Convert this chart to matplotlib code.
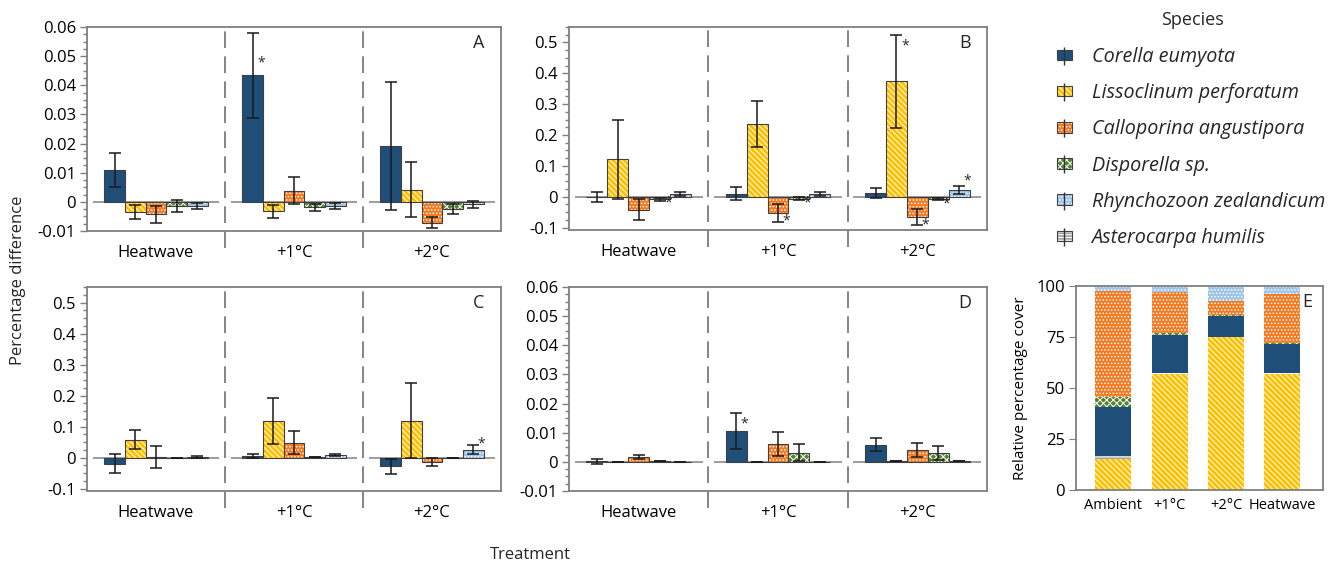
import numpy as np
import matplotlib
matplotlib.use('Agg')
import matplotlib.pyplot as plt
from matplotlib.ticker import AutoMinorLocator, MultipleLocator
from matplotlib.lines import Line2D
from matplotlib.patches import Patch
from matplotlib.legend_handler import HandlerTuple

plt.rcParams['font.family'] = ['Open Sans', 'DejaVu Sans']
plt.rcParams['hatch.linewidth'] = 0.7
plt.rcParams['text.color'] = '#262626'

species = ['Corella eumyota', 'Lissoclinum perforatum', 'Calloporina angustipora',
           'Disporella sp.', 'Rhynchozoon zealandicum', 'Asterocarpa humilis']
colors = ['#1F4E79', '#FFC000', '#F47920', '#548235', '#9DC3E6', '#A6A6A6']
hatches = ['', '\\' * 6, '.....', 'xxxxx', '.....', '------']

treatments = ['Heatwave', '+1°C', '+2°C']

# mean percentage difference, rows = treatment, cols = first five species
a_mean = [[0.0109, -0.0034, -0.0043, -0.0014, -0.0013],
          [0.0434, -0.0033, 0.0038, -0.0019, -0.0013],
          [0.0191, 0.0042, -0.0071, -0.0025, -0.0009]]
a_err = [[0.0057, 0.0024, 0.0028, 0.0020, 0.0010],
         [0.0147, 0.0021, 0.0046, 0.0011, 0.0010],
         [0.0220, 0.0094, 0.0019, 0.0016, 0.0012]]

b_mean = [[-0.001, 0.1215, -0.042, -0.009, 0.009],
          [0.009, 0.236, -0.053, -0.007, 0.009],
          [0.012, 0.374, -0.067, -0.008, 0.022]]
b_err = [[0.016, 0.128, 0.033, 0.004, 0.007],
         [0.021, 0.074, 0.030, 0.005, 0.006],
         [0.017, 0.150, 0.026, 0.004, 0.013]]

c_mean = [[-0.0195, 0.057, 0.001, -0.001, 0.002],
          [0.005, 0.118, 0.048, 0.001, 0.0076],
          [-0.028, 0.119, -0.014, 0.0, 0.025]]
c_err = [[0.030, 0.031, 0.036, 0.0, 0.002],
         [0.007, 0.074, 0.037, 0.0, 0.004],
         [0.024, 0.120, 0.014, 0.0, 0.015]]

d_mean = [[0.0002, 0.0001, 0.0016, 0.0002, -0.0002],
          [0.0106, 0.0001, 0.0062, 0.0032, -0.0001],
          [0.0059, 0.0002, 0.0042, 0.0030, 0.0002]]
d_err = [[0.0009, 0.0, 0.0007, 0.0, 0.0],
         [0.0063, 0.0, 0.0042, 0.0030, 0.0],
         [0.0022, 0.0, 0.0024, 0.0024, 0.0]]

# significance markers: (treatment index, species index, y)
a_stars = [(1, 0, 0.0478)]
b_stars = [(0, 3, -0.021), (1, 2, -0.080), (1, 3, -0.021),
           (2, 1, 0.489), (2, 2, -0.091), (2, 3, -0.024), (2, 4, 0.051)]
c_stars = [(2, 4, 0.043)]
d_stars = [(1, 0, 0.0131)]

# relative percentage cover (panel E), stacked in this order from the bottom
e_groups = ['Ambient', '+1°C', '+2°C', 'Heatwave']
e_order = [1, 5, 0, 3, 2, 4]
e_cover = {
    'Lissoclinum perforatum': [15.1, 56.9, 74.9, 56.9],
    'Asterocarpa humilis': [1.8, 0.5, 0.0, 0.5],
    'Corella eumyota': [23.8, 18.7, 10.2, 14.1],
    'Disporella sp.': [4.9, 0.8, 0.6, 0.8],
    'Calloporina angustipora': [52.1, 20.1, 6.9, 23.9],
    'Rhynchozoon zealandicum': [2.3, 3.0, 7.4, 3.8],
}

W, H = 1338, 567
fig = plt.figure(figsize=(W / 100, H / 100), dpi=100)


def box(l, t, r, b):
    return [l / W, 1 - b / H, (r - l) / W, (b - t) / H]


SPINE = '#7f7f7f'
BW = 0.15


def diff_panel(ax, mean, err, stars, ylim, major, letter):
    mean = np.array(mean)
    err = np.array(err)
    x = np.arange(len(treatments))
    for g in x:
        ax.hlines(0, g - 0.46, g + 0.46, color='#8c8c8c', lw=1.2, zorder=1)
    for s in range(mean.shape[1]):
        xs = x + (s - 2) * BW
        ax.bar(xs, mean[:, s], BW, color=colors[s], edgecolor='white',
               hatch=hatches[s], lw=0, zorder=2)
        ax.bar(xs, mean[:, s], BW, fill=False, edgecolor='#404040', lw=0.8,
               yerr=err[:, s], capsize=4,
               error_kw=dict(ecolor='#1a1a1a', elinewidth=1.1, capthick=1.1),
               zorder=3)
    for g, s, y in stars:
        ax.text(g + (s - 2) * BW + 0.06, y, '*', ha='center', va='center',
                fontsize=10, color='#262626')
    for xv in [0.5, 1.5]:
        ax.axvline(xv, ymin=-0.085, ymax=1, color='#707070', lw=1.2,
                   dashes=(10, 5), clip_on=False, zorder=0)
    ax.set_xlim(-0.5, 2.5)
    ax.set_ylim(*ylim)
    ax.yaxis.set_major_locator(MultipleLocator(major))
    ax.yaxis.set_minor_locator(AutoMinorLocator(4))
    ax.yaxis.set_major_formatter(plt.FuncFormatter(
        lambda v, p: '0' if abs(v) < 1e-9 else ('%g' % round(v, 4))))
    ax.set_xticks(x)
    ax.set_xticklabels(treatments, fontsize=12)
    ax.tick_params(axis='x', length=0, pad=10)
    ax.tick_params(axis='y', which='major', length=5, width=1, color=SPINE,
                   labelsize=12, pad=3)
    ax.tick_params(axis='y', which='minor', length=3, width=1, color=SPINE)
    for sp in ax.spines.values():
        sp.set_color(SPINE)
        sp.set_linewidth(1.3)
    ax.text(0.947, 0.92, letter, transform=ax.transAxes, fontsize=13,
            ha='center', va='center')


ax_a = fig.add_axes(box(87, 27, 501, 231))
ax_b = fig.add_axes(box(569, 27, 987, 230))
ax_c = fig.add_axes(box(87, 287, 501, 491))
ax_d = fig.add_axes(box(569, 287, 987, 491))
ax_e = fig.add_axes(box(1076, 286, 1323, 490))

diff_panel(ax_a, a_mean, a_err, a_stars, (-0.01, 0.06), 0.01, 'A')
diff_panel(ax_b, b_mean, b_err, b_stars, (-0.108, 0.55), 0.1, 'B')
diff_panel(ax_c, c_mean, c_err, c_stars, (-0.108, 0.55), 0.1, 'C')
diff_panel(ax_d, d_mean, d_err, d_stars, (-0.01, 0.06), 0.01, 'D')

# panel E: stacked relative cover
xe = np.arange(len(e_groups))
bottom = np.zeros(len(e_groups))
for s in e_order:
    vals = np.array(e_cover[species[s]])
    ax_e.bar(xe, vals, 0.64, bottom=bottom, color=colors[s], edgecolor='white',
             hatch=hatches[s], lw=0)
    bottom += vals
ax_e.set_xlim(-0.66, 3.72)
ax_e.set_ylim(0, 100)
ax_e.set_yticks([0, 25, 50, 75, 100])
ax_e.set_xticks(xe)
ax_e.set_xticklabels(e_groups, fontsize=10.5)
ax_e.tick_params(axis='x', length=0, pad=6)
ax_e.tick_params(axis='y', length=5, color=SPINE, labelsize=12, pad=3)
for sp in ax_e.spines.values():
    sp.set_color(SPINE)
    sp.set_linewidth(1.3)
ax_e.set_ylabel('Relative percentage cover', fontsize=11, labelpad=6)
ax_e.text(0.935, 0.92, 'E', transform=ax_e.transAxes, fontsize=13,
          ha='center', va='center')

fig.text(18 / W, 1 - 280 / H, 'Percentage difference', rotation=90,
         fontsize=12, ha='center', va='center')
fig.text(530 / W, 1 - 555 / H, 'Treatment', fontsize=12, ha='center', va='center')

# legend
handles = []
for s in range(len(species)):
    handles.append((Patch(facecolor=colors[s], edgecolor='white', hatch=hatches[s], lw=0),
                    Patch(fill=False, edgecolor='#404040', lw=0.8),
                    Line2D([], [], marker='|', markersize=13, mew=1.0,
                           color='#333333', linestyle='None')))
fig.text(1192 / W, 1 - 20 / H, 'Species', fontsize=13, ha='center', va='center')
fig.legend(handles, species, handler_map={tuple: HandlerTuple(ndivide=1)},
           loc='upper left', bbox_to_anchor=(1057 / W, 1 - 47 / H),
           frameon=False, prop={'style': 'italic', 'size': 14.2},
           handlelength=0.75, handleheight=0.45, handletextpad=1.0,
           labelspacing=0.82, borderpad=0, borderaxespad=0)

fig.savefig('out.png', dpi=100)
